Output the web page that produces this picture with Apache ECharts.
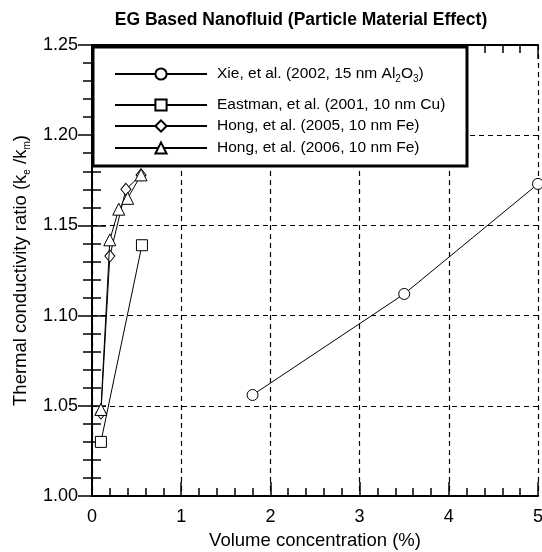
<!DOCTYPE html>
<html>
<head>
<meta charset="utf-8">
<script src="https://cdn.jsdelivr.net/npm/echarts@6/dist/echarts.min.js"></script>
<style>
  html, body { margin: 0; padding: 0; background: #fff; }
  #chart { width: 542px; height: 552px; }
</style>
</head>
<body>
<div id="chart"></div>
<script>
// Volume concentration (%) and thermal conductivity ratio for each study
const xieX = [1.8, 3.5, 5.0];
const xieY = [1.056, 1.112, 1.173];

const eastmanX = [0.1, 0.56];
const eastmanY = [1.030, 1.139];

const hong2005X = [0.1, 0.2, 0.38, 0.55];
const hong2005Y = [1.046, 1.133, 1.170, 1.178];

const hong2006X = [0.1, 0.2, 0.3, 0.4, 0.55];
const hong2006Y = [1.048, 1.142, 1.159, 1.165, 1.178];

const seriesNames = [
  'Xie, et al. (2002, 15 nm Al2O3)',
  'Eastman, et al. (2001, 10 nm Cu)',
  'Hong, et al. (2005, 10 nm Fe)',
  'Hong, et al. (2006, 10 nm Fe)'
];
const seriesSymbols = ['circle', 'rect', 'diamond', 'triangle'];

const FONT = '"Liberation Sans", Arial, Helvetica, sans-serif';

function pairs(xs, ys) {
  return xs.map((x, i) => [x, ys[i]]);
}

const seriesData = [
  pairs(xieX, xieY),
  pairs(eastmanX, eastmanY),
  pairs(hong2005X, hong2005Y),
  pairs(hong2006X, hong2006Y)
];
const symbolSizes = [11, 11, [10, 12], 12];

const series = seriesData.map((d, i) => ({
  name: seriesNames[i],
  type: 'line',
  data: d,
  symbol: seriesSymbols[i],
  symbolSize: symbolSizes[i],
  showAllSymbol: true,
  lineStyle: { color: '#000', width: 1 },
  itemStyle: { color: '#fff', borderColor: '#000', borderWidth: 1 },
  emphasis: { disabled: true },
  z: 3 + i
}));

// legend rows, each placed on its own line inside the framed box
const legendRows = [73, 104, 125, 147];
const legends = seriesNames.map((name, i) => ({
  data: [name],
  left: 114,
  top: legendRows[i] - 7,
  padding: 0,
  itemWidth: 92,
  itemHeight: 14,
  itemGap: 0,
  selectedMode: false,
  z: 20,
  textStyle: { fontFamily: FONT, fontSize: 15.5, color: '#000', padding: [0, 0, 0, 5],
    rich: {
      n: { fontFamily: FONT, fontSize: 15.5, color: '#000' },
      s: { fontFamily: FONT, fontSize: 10, color: '#000', padding: [10, 0, 0, 0] }
    }
  },
  formatter: function (n) {
    if (n.indexOf('Al2O3') >= 0) {
      return '{n|Xie, et al. (2002, 15 nm Al}{s|2}{n|O}{s|3}{n|)}';
    }
    return '{n|' + n + '}';
  }
}));

const gridDash = { type: [5, 4], color: '#000', width: 1.2 };

const option = {
  backgroundColor: '#fff',
  animation: false,
  title: {
    text: 'EG Based Nanofluid (Particle Material Effect)',
    left: 296,
    textAlign: 'center',
    top: 6,
    textStyle: { fontFamily: FONT, fontSize: 17.5, fontWeight: 'bold', color: '#000' }
  },
  grid: { left: 92, right: 4, top: 45, bottom: 56, outerBoundsMode: 'none', containLabel: false },
  legend: legends,
  graphic: [{
    type: 'rect',
    shape: { x: 93, y: 47, width: 374, height: 119 },
    style: { fill: '#fff', stroke: '#000', lineWidth: 3 },
    z: 10
  }],
  xAxis: [{
    type: 'value', min: 0, max: 5, interval: 1,
    name: 'Volume concentration (%)', nameLocation: 'middle', nameGap: 35,
    nameTextStyle: { fontFamily: FONT, fontSize: 18.5, color: '#000' },
    axisLine: { lineStyle: { color: '#000', width: 2 } },
    axisTick: { inside: true, length: 14, lineStyle: { color: '#000', width: 1.5 } },
    minorTick: { show: true, splitNumber: 5, length: 8, lineStyle: { color: '#000', width: 1.5 } },
    splitLine: { show: true, lineStyle: gridDash },
    axisLabel: { fontFamily: FONT, fontSize: 18, color: '#000', margin: 12 }
  }, {
    type: 'value', min: 0, max: 5, interval: 1, position: 'top',
    axisLine: { lineStyle: { color: '#000', width: 2 } },
    axisTick: { inside: true, length: 14, lineStyle: { color: '#000', width: 1.5 } },
    minorTick: { show: true, splitNumber: 5, length: 8, lineStyle: { color: '#000', width: 1.5 } },
    splitLine: { show: false },
    axisLabel: { show: false }
  }],
  yAxis: [{
    type: 'value', min: 1.0, max: 1.25, interval: 0.05,
    name: '{n|Thermal conductivity ratio (k}{s|e}{n| /k}{s|m}{n|)}',
    nameLocation: 'middle', nameGap: 59,
    nameTextStyle: {
      rich: {
        n: { fontFamily: FONT, fontSize: 18.5, color: '#000' },
        s: { fontFamily: FONT, fontSize: 10, color: '#000', padding: [12, 0, 0, 0] }
      }
    },
    axisLine: { lineStyle: { color: '#000', width: 2 } },
    axisTick: { inside: true, length: 14, lineStyle: { color: '#000', width: 1.5 } },
    minorTick: { show: true, splitNumber: 5, length: 9, lineStyle: { color: '#000', width: 1.5 } },
    splitLine: { show: true, lineStyle: gridDash },
    axisLabel: { fontFamily: FONT, fontSize: 18, color: '#000', margin: 14,
      formatter: v => v.toFixed(2) }
  }, {
    type: 'value', min: 1.0, max: 1.25, interval: 0.05, position: 'right',
    axisLine: { lineStyle: { color: '#000', width: 2 } },
    axisTick: { inside: true, length: 14, lineStyle: { color: '#000', width: 1.5 } },
    minorTick: { show: true, splitNumber: 5, length: 9, lineStyle: { color: '#000', width: 1.5 } },
    splitLine: { show: false },
    axisLabel: { show: false }
  }],
  series: series
};

const chart = echarts.init(document.getElementById('chart'), null, { renderer: 'canvas' });
chart.setOption(option);
</script>
</body>
</html>
